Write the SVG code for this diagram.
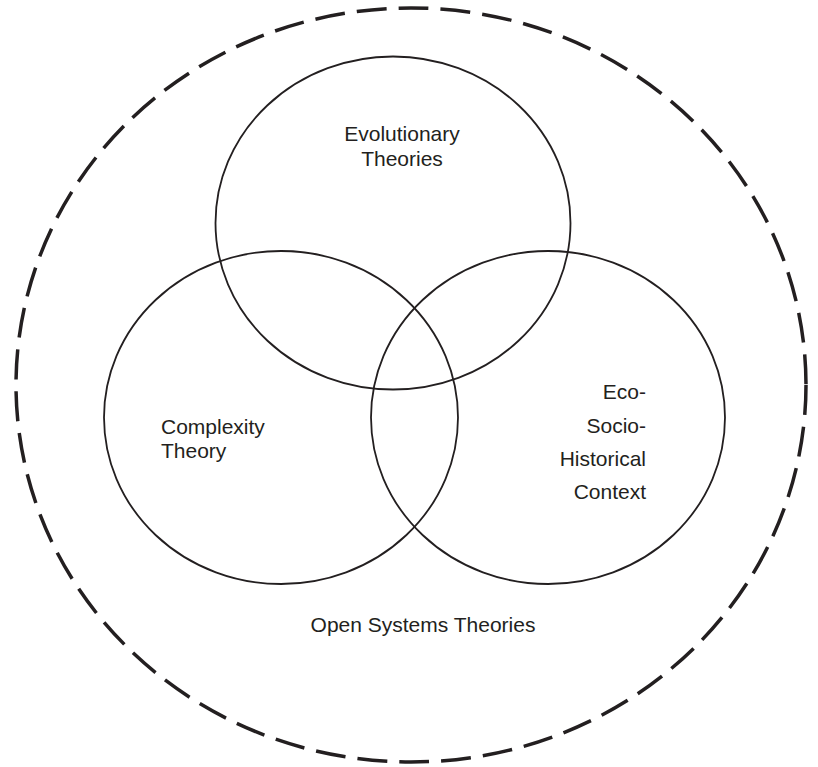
<svg xmlns="http://www.w3.org/2000/svg" width="818" height="767" viewBox="0 0 818 767">
<style>
.c{fill:none;stroke:#231f20;stroke-width:1.8}
.o{fill:none;stroke:#231f20;stroke-width:3.5;stroke-dasharray:30 12}
text{font-family:"Liberation Sans",Arial,sans-serif;font-size:21px;fill:#231f20}
</style>
<rect width="818" height="767" fill="#fff"/>
<g id="open-systems">
<ellipse class="o" cx="411" cy="385" rx="395" ry="377"/>
<text x="423" y="632" text-anchor="middle">Open Systems Theories</text>
</g>
<g id="evolutionary">
<ellipse class="c" cx="393" cy="223" rx="177.5" ry="166.5"/>
<text x="402" y="141" text-anchor="middle">Evolutionary</text>
<text x="402" y="166" text-anchor="middle">Theories</text>
</g>
<g id="complexity">
<ellipse class="c" cx="281" cy="417.5" rx="177" ry="166.5"/>
<text x="161" y="434">Complexity</text>
<text x="161" y="458">Theory</text>
</g>
<g id="eco-socio-historical">
<ellipse class="c" cx="548" cy="417.5" rx="177" ry="166.5"/>
<text x="646" y="399" text-anchor="end">Eco-</text>
<text x="646" y="433" text-anchor="end">Socio-</text>
<text x="646" y="466" text-anchor="end">Historical</text>
<text x="646" y="499" text-anchor="end">Context</text>
</g>
<g id="connectors"/>
</svg>
